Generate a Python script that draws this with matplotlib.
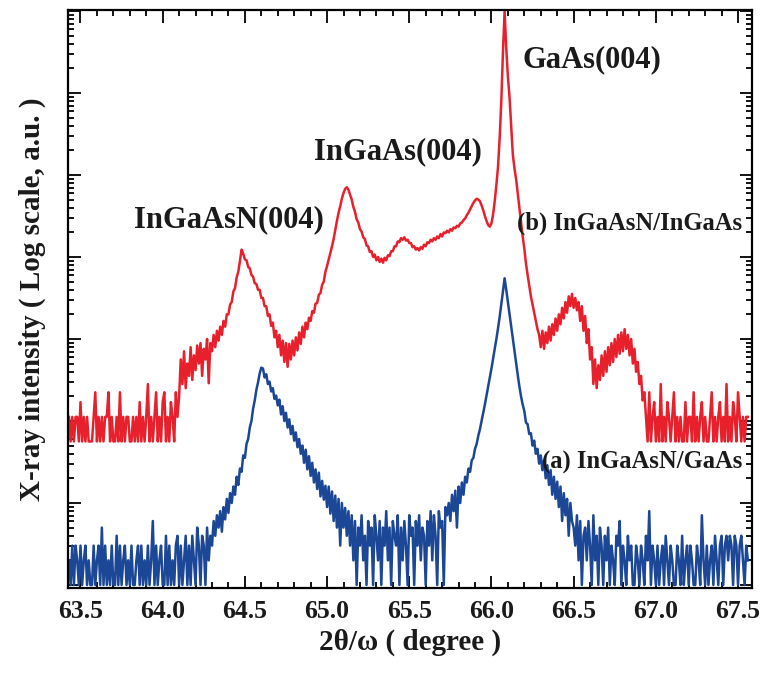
import numpy as np
import matplotlib
matplotlib.use("Agg")
import matplotlib.pyplot as plt
from matplotlib.ticker import MultipleLocator, LogLocator, NullFormatter, FormatStrFormatter

# Scan grid (2theta/omega, degree)
two_theta_start = 63.43
two_theta_step = 0.01

# log10 of diffracted intensity, sample (a) InGaAsN/GaAs
log_int_a = [
    # 63.43 - 64.29 background
    0.30, 0.00, 0.48, 0.00, 0.48, 0.30, 0.00, 0.48, 0.00, 0.30,
    0.48, 0.00, 0.30, 0.00, 0.00, 0.48, 0.00, 0.30, 0.48, 0.00,
    0.70, 0.00, 0.48, 0.00, 0.30, 0.00, 0.48, 0.00, 0.00, 0.60,
    0.00, 0.48, 0.00, 0.30, 0.48, 0.00, 0.30, 0.00, 0.48, 0.00,
    0.00, 0.30, 0.48, 0.00, 0.48, 0.00, 0.30, 0.00, 0.48, 0.00,
    0.30, 0.78, 0.00, 0.48, 0.00, 0.30, 0.48, 0.00, 0.00, 0.60,
    0.00, 0.48, 0.00, 0.30, 0.00, 0.48, 0.60, 0.00, 0.48, 0.00,
    0.30, 0.60, 0.00, 0.48, 0.00, 0.60, 0.30, 0.00, 0.70, 0.48,
    0.00, 0.60, 0.48, 0.00, 0.70, 0.30, 0.60,
    # 64.30 - 64.59 rising edge of InGaAsN(004)
    0.48, 0.78, 0.60, 0.85, 0.70, 0.90, 0.65, 0.95, 0.80, 1.05,
    0.88, 1.12, 1.00, 1.20, 1.10, 1.32, 1.22, 1.42, 1.38, 1.58,
    1.55, 1.72, 1.78, 1.92, 2.00, 2.15, 2.25, 2.38, 2.47, 2.58,
    # 64.60 InGaAsN(004)
    2.65,
    # 64.61 - 65.14
    2.64, 2.53, 2.57, 2.45, 2.48, 2.36, 2.40, 2.27, 2.31, 2.19,
    2.26, 2.08, 2.18, 2.00, 2.10, 1.92, 2.02, 1.84, 1.94, 1.76,
    1.86, 1.68, 1.78, 1.60, 1.70, 1.49, 1.65, 1.41, 1.57, 1.33,
    1.49, 1.25, 1.41, 1.17, 1.37, 1.08, 1.27, 1.04, 1.21, 0.95,
    1.20, 0.87, 1.14, 0.78, 1.09, 0.70, 1.05, 0.48, 1.00, 0.70,
    0.94, 0.60, 0.90, 0.48,
    # 65.15 - 65.74 valley
    0.85, 0.30, 0.78, 0.00, 0.70, 0.48, 0.85, 0.30, 0.60, 0.00,
    0.78, 0.48, 0.70, 0.00, 0.85, 0.60, 0.30, 0.78, 0.00, 0.70,
    0.48, 0.90, 0.30, 0.70, 0.00, 0.78, 0.60, 0.48, 0.85, 0.00,
    0.70, 0.30, 0.78, 0.48, 0.00, 0.85, 0.60, 0.70, 0.00, 0.78,
    0.48, 0.85, 0.30, 0.70, 0.60, 0.00, 0.78, 0.48, 0.90, 0.30,
    0.85, 0.60, 0.00, 0.90, 0.70, 0.78, 0.00, 0.95, 0.85, 1.00,
    # 65.75 - 66.07 rising edge of GaAs(004)
    0.78, 1.10, 0.90, 1.15, 0.70, 1.20, 1.00, 1.25, 1.10, 1.32,
    1.25, 1.42, 1.38, 1.52, 1.55, 1.66, 1.72, 1.82, 1.90, 2.00,
    2.10, 2.20, 2.31, 2.42, 2.53, 2.64, 2.76, 2.88, 3.00, 3.13,
    3.27, 3.42, 3.58,
    # 66.08 GaAs(004)
    3.74,
    # 66.09 - 66.49
    3.60, 3.45, 3.30, 3.15, 3.00, 2.85, 2.70, 2.56, 2.42, 2.30,
    2.20, 2.12, 1.98, 1.96, 1.84, 1.85, 1.70, 1.76, 1.60, 1.66,
    1.48, 1.58, 1.40, 1.52, 1.30, 1.46, 1.22, 1.40, 1.10, 1.32,
    1.05, 1.26, 0.95, 1.20, 0.78, 1.12, 0.85, 1.05, 0.60, 1.00,
    0.78,
    # 66.50 - 67.56 background
    0.70, 0.48, 0.85, 0.30, 0.78, 0.00, 0.60, 0.70, 0.30, 0.78,
    0.48, 0.00, 0.85, 0.30, 0.60, 0.00, 0.70, 0.48, 0.00, 0.60,
    0.30, 0.70, 0.00, 0.48, 0.30, 0.00, 0.60, 0.48, 0.78, 0.00,
    0.48, 0.30, 0.00, 0.60, 0.30, 0.48, 0.00, 0.00, 0.48, 0.30,
    0.00, 0.48, 0.30, 0.00, 0.60, 0.30, 0.90, 0.00, 0.48, 0.30,
    0.00, 0.48, 0.00, 0.30, 0.48, 0.00, 0.60, 0.30, 0.00, 0.48,
    0.30, 0.00, 0.00, 0.48, 0.30, 0.00, 0.60, 0.00, 0.30, 0.48,
    0.00, 0.48, 0.30, 0.00, 0.00, 0.48, 0.30, 0.00, 0.85, 0.30,
    0.00, 0.48, 0.00, 0.30, 0.48, 0.00, 0.60, 0.30, 0.00, 0.48,
    0.60, 0.00, 0.48, 0.60, 0.30, 0.60, 0.48, 0.00, 0.60, 0.48,
    0.00, 0.48, 0.60, 0.30, 0.00, 0.48, 0.30,
]

# log10 of diffracted intensity, sample (b) InGaAsN/InGaAs (shifted up)
log_int_b = [
    # 63.43 - 64.09 background
    2.05, 1.75, 2.05, 1.75, 2.05, 2.05, 1.75, 2.23, 1.75, 2.05,
    1.75, 2.05, 1.75, 1.75, 1.75, 2.05, 2.35, 1.75, 2.05, 1.75,
    2.05, 1.75, 2.05, 2.05, 2.35, 1.75, 2.05, 1.75, 1.75, 2.05,
    1.75, 2.35, 1.75, 2.05, 1.75, 2.05, 2.05, 1.75, 1.75, 2.05,
    1.75, 2.05, 1.75, 2.23, 1.75, 2.05, 1.75, 2.05, 2.45, 1.75,
    2.05, 1.75, 2.05, 2.35, 1.75, 2.05, 1.75, 2.23, 2.35, 1.75,
    2.05, 1.75, 2.23, 2.05, 1.75, 2.35, 2.05,
    # 64.10 - 64.47
    2.30, 2.75, 2.45, 2.85, 2.40, 2.70, 2.55, 2.90, 2.50, 2.80,
    2.62, 2.92, 2.70, 2.95, 2.55, 2.88, 2.75, 3.00, 2.46, 2.95,
    2.85, 3.05, 2.90, 3.10, 2.98, 3.15, 3.05, 3.22, 3.15, 3.30,
    3.30, 3.42, 3.45, 3.58, 3.62, 3.75, 3.82, 3.95,
    # 64.48 InGaAsN(004)
    4.09,
    # 64.49 - 65.11
    4.04, 3.97, 3.96, 3.88, 3.86, 3.78, 3.76, 3.68, 3.67, 3.60,
    3.60, 3.50, 3.50, 3.40, 3.40, 3.28, 3.30, 3.16, 3.20, 3.02,
    3.10, 2.90, 3.05, 2.80, 2.98, 2.72, 2.95, 2.66, 2.94, 2.75,
    2.98, 2.80, 3.02, 2.86, 3.08, 2.94, 3.15, 3.02, 3.20, 3.12,
    3.26, 3.22, 3.34, 3.32, 3.43, 3.44, 3.54, 3.56, 3.66, 3.70,
    3.82, 3.89, 3.97, 4.05, 4.13, 4.22, 4.33, 4.44, 4.54, 4.62,
    4.71, 4.78, 4.83,
    # 65.12 InGaAs(004)
    4.85,
    # 65.13 - 66.05
    4.82, 4.76, 4.70, 4.61, 4.55, 4.46, 4.42, 4.34, 4.31, 4.24,
    4.22, 4.14, 4.13, 4.06, 4.07, 4.00, 4.03, 3.96, 4.00, 3.94,
    3.98, 3.93, 3.99, 3.96, 4.02, 4.01, 4.07, 4.07, 4.13, 4.13,
    4.19, 4.18, 4.23, 4.21, 4.24, 4.20, 4.21, 4.17, 4.17, 4.12,
    4.13, 4.09, 4.11, 4.08, 4.12, 4.10, 4.15, 4.13, 4.18, 4.17,
    4.21, 4.19, 4.23, 4.21, 4.25, 4.23, 4.28, 4.25, 4.30, 4.29,
    4.32, 4.30, 4.34, 4.32, 4.36, 4.35, 4.38, 4.37, 4.41, 4.42,
    4.45, 4.47, 4.51, 4.54, 4.58, 4.62, 4.66, 4.69, 4.71, 4.70,
    4.68, 4.63, 4.57, 4.50, 4.44, 4.39, 4.37, 4.41, 4.52, 4.68,
    4.88, 5.10, 5.45,
    # 66.06 - 66.07
    5.90, 6.50,
    # 66.08 GaAs(004)
    7.00,
    # 66.09 - 66.93
    6.55, 6.20, 5.95, 5.60, 5.25, 5.08, 4.95, 4.78, 4.60, 4.42,
    4.25, 4.10, 3.92, 3.78, 3.65, 3.52, 3.42, 3.32, 3.22, 3.12,
    3.05, 2.90, 3.10, 2.88, 3.08, 2.95, 3.15, 2.98, 3.18, 3.05,
    3.25, 3.10, 3.30, 3.18, 3.38, 3.25, 3.45, 3.32, 3.52, 3.40,
    3.55, 3.38, 3.50, 3.35, 3.45, 3.22, 3.40, 3.10, 3.28, 2.95,
    3.12, 2.75, 2.90, 2.45, 2.75, 2.40, 2.68, 2.50, 2.80, 2.55,
    2.85, 2.60, 2.90, 2.68, 2.95, 2.72, 3.00, 2.78, 3.05, 2.82,
    3.08, 2.85, 3.12, 2.88, 3.05, 2.80, 3.00, 2.70, 2.88, 2.60,
    2.72, 2.45, 2.55, 2.25, 2.35,
    # 66.94 - 67.56 background
    2.05, 1.75, 2.35, 1.75, 2.05, 2.23, 1.75, 2.05, 1.75, 2.45,
    1.75, 2.05, 1.75, 2.23, 2.05, 1.75, 2.05, 2.35, 1.75, 2.05,
    1.75, 2.05, 1.75, 1.75, 2.23, 1.75, 2.05, 2.05, 1.75, 2.35,
    1.75, 2.05, 1.75, 2.05, 2.23, 1.75, 2.05, 1.75, 1.75, 2.05,
    2.35, 1.75, 2.05, 1.75, 2.05, 2.23, 1.75, 2.05, 1.75, 2.45,
    1.75, 2.05, 1.75, 2.23, 2.05, 1.75, 2.35, 2.05, 1.75, 2.05,
    1.75, 2.05, 2.05,
]

peak_labels = ["InGaAsN(004)", "InGaAs(004)", "GaAs(004)"]
peak_label_x = [64.40, 65.43, 66.61]
peak_label_log = [4.46, 5.28, 6.40]

sample_labels = ["(a) InGaAsN/GaAs", "(b) InGaAsN/InGaAs"]
sample_label_x = [67.525, 67.525]
sample_label_log = [1.50, 4.41]

x_ticks = [63.5, 64.0, 64.5, 65.0, 65.5, 66.0, 66.5, 67.0, 67.5]

color_a = "#1b4796"
color_b = "#e8202c"
text_color = "#1a1a1a"

serif = ["Liberation Serif", "DejaVu Serif"]
plt.rcParams["font.family"] = serif
plt.rcParams["font.weight"] = "bold"

fig = plt.figure(figsize=(7.67, 6.75), dpi=100)
ax = fig.add_axes([68 / 767, 87 / 675, (752 - 68) / 767, (588 - 10) / 675])

x_a = two_theta_start + two_theta_step * np.arange(len(log_int_a))
x_b = two_theta_start + two_theta_step * np.arange(len(log_int_b))
ax.plot(x_a, np.power(10.0, log_int_a), color=color_a, lw=1.8)
ax.plot(x_b, np.power(10.0, log_int_b), color=color_b, lw=1.8)

ax.set_yscale("log")
ax.set_xlim(63.424, 67.585)
ax.set_ylim(10 ** -0.037, 10 ** 7.012)

ax.xaxis.set_major_locator(MultipleLocator(0.5))
ax.xaxis.set_minor_locator(MultipleLocator(0.1))
ax.xaxis.set_major_formatter(FormatStrFormatter("%.1f"))
ax.set_xticks(x_ticks)
ax.yaxis.set_major_locator(LogLocator(base=10, numticks=20))
ax.yaxis.set_minor_locator(LogLocator(base=10, subs=np.arange(2, 10), numticks=20))
ax.yaxis.set_major_formatter(NullFormatter())
ax.yaxis.set_minor_formatter(NullFormatter())

ax.tick_params(which="both", direction="in", top=True, right=True, width=1.3)
ax.tick_params(which="major", length=9)
ax.tick_params(which="minor", length=4.5)
ax.tick_params(axis="x", which="major", labelsize=18.5, pad=9, labelcolor=text_color)
for lab in ax.get_xticklabels():
    lab.set_fontweight("bold")
for s in ax.spines.values():
    s.set_linewidth(1.6)

ax.set_xlabel("2θ/ω ( degree )", fontsize=21, fontweight="bold",
              labelpad=4, color=text_color)
ax.set_ylabel("X-ray intensity ( Log scale, a.u. )", fontsize=21,
              fontweight="bold", labelpad=12, color=text_color)

for txt, xv, lv in zip(peak_labels, peak_label_x, peak_label_log):
    ax.text(xv, 10 ** lv, txt, fontsize=22, fontweight="bold",
            ha="center", va="center", color=text_color)
for txt, xv, lv in zip(sample_labels, sample_label_x, sample_label_log):
    ax.text(xv, 10 ** lv, txt, fontsize=17.7, fontweight="bold",
            ha="right", va="center", color=text_color)

fig.savefig("out.png", dpi=100)
